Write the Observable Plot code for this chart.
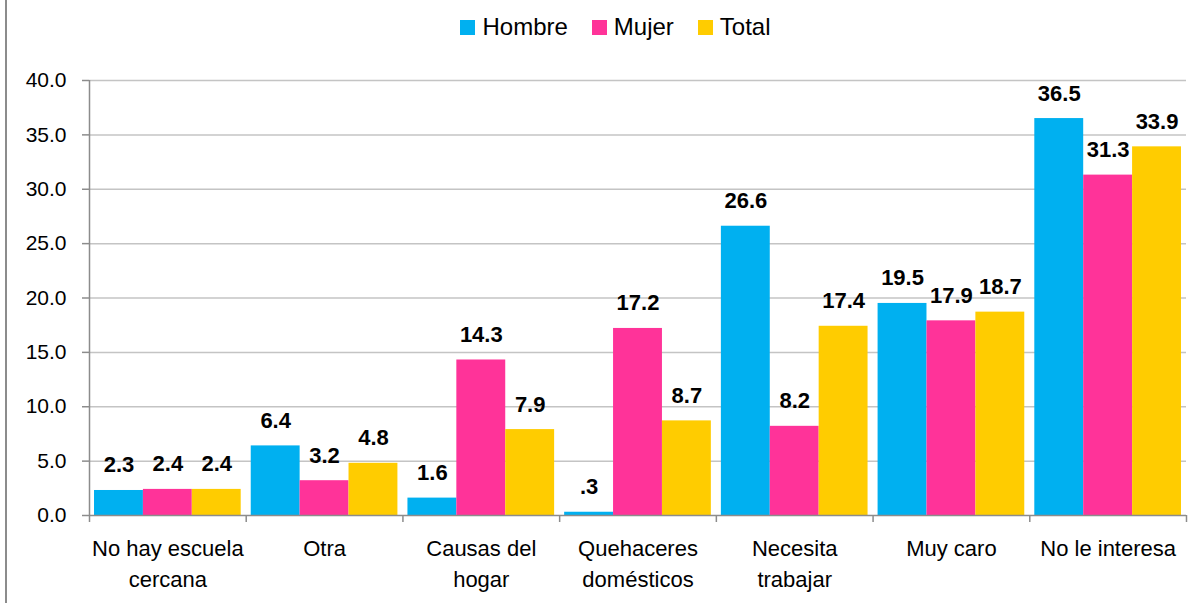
<!DOCTYPE html>
<html>
<head>
<meta charset="utf-8">
<script src="https://cdn.jsdelivr.net/npm/d3@7"></script>
<script src="https://cdn.jsdelivr.net/npm/@observablehq/plot@0.6"></script>
<style>
  html, body { margin: 0; padding: 0; background: #fff; }
  body { width: 1199px; height: 603px; position: relative; overflow: hidden;
         font-family: "Liberation Sans", Arial, sans-serif; }
  #frame { position: absolute; left: 5px; top: 0; width: 2px; height: 603px; background: #8c8c8c; }
  #legend { height: 54px; display: flex; justify-content: center; align-items: center;
            padding-left: 32px; box-sizing: border-box; font-size: 24px; color: #000; }
  .item { display: flex; align-items: center; margin: 0 12px; }
  .sw { width: 15px; height: 15px; margin-right: 7px; }
  #chart svg { display: block; }
</style>
</head>
<body>
<div id="frame"></div>
<div id="legend"></div>
<div id="chart"></div>
<script>
const categories = ["No hay escuela cercana", "Otra", "Causas del hogar", "Quehaceres domésticos", "Necesita trabajar", "Muy caro", "No le interesa"];
const categoryLabels = ["No hay escuela\ncercana", "Otra", "Causas del\nhogar", "Quehaceres\ndomésticos", "Necesita\ntrabajar", "Muy caro", "No le interesa"];
const series = ["Hombre", "Mujer", "Total"];
const colors = ["#00B0F0", "#FF3399", "#FFCC00"];
const hombre = [2.3, 6.4, 1.6, 0.3, 26.6, 19.5, 36.5];
const mujer  = [2.4, 3.2, 14.3, 17.2, 8.2, 17.9, 31.3];
const total  = [2.4, 4.8, 7.9, 8.7, 17.4, 18.7, 33.9];
const yTicks = [0, 5, 10, 15, 20, 25, 30, 35, 40];

const values = [hombre, mujer, total];
const rows = [];
categories.forEach((c, ci) => {
  series.forEach((s, si) => rows.push({category: c, ci, series: s, si, value: values[si][ci]}));
});

// legend
const legend = document.getElementById("legend");
series.forEach((s, i) => {
  const it = document.createElement("div");
  it.className = "item";
  it.innerHTML = `<span class="sw" style="background:${colors[i]}"></span><span>${s}</span>`;
  legend.appendChild(it);
});

const pad = 0.032;
const bw = (1 - 2 * pad) / 3;
const fmt = v => d3.format(".1f")(v).replace(/^0\./, ".");
const font = '"Liberation Sans", Arial, sans-serif';

const chart = Plot.plot({
  width: 1199,
  height: 549,
  marginLeft: 89,
  marginRight: 13,
  marginTop: 26,
  marginBottom: 88,
  style: {fontFamily: font, background: "#fff", color: "#000"},
  x: {domain: [0, categories.length], axis: null},
  y: {domain: [0, 40], axis: null},
  color: {domain: series, range: colors},
  marks: [
    Plot.ruleY(yTicks.slice(1), {stroke: "#c4c4c4", strokeWidth: 1.5}),
    Plot.rectY(rows, {
      x1: d => d.ci + pad + d.si * bw,
      x2: d => d.ci + pad + (d.si + 1) * bw,
      y: "value",
      fill: "series"
    }),
    Plot.ruleY([0], {stroke: "#8c8c8c", strokeWidth: 1.5}),
    Plot.ruleX([0], {y1: 0, y2: 40, stroke: "#8c8c8c", strokeWidth: 1.5}),
    Plot.axisY(yTicks, {
      tickSize: 7, tickPadding: 16, tickFormat: d3.format(".1f"),
      stroke: "#8c8c8c", fill: "#000", fontSize: 21, label: null, strokeWidth: 1.5
    }),
    Plot.axisX(d3.range(categories.length + 1), {
      tickSize: 7, tickFormat: () => "", stroke: "#8c8c8c", label: null, strokeWidth: 1.5
    }),
    Plot.text(categoryLabels, {
      x: (d, i) => i + 0.5,
      frameAnchor: "bottom",
      text: d => d,
      lineAnchor: "top",
      dy: 19,
      lineHeight: 1.4,
      fontSize: 22,
      fill: "#000"
    }),
    Plot.text(rows, {
      x: d => d.ci + pad + (d.si + 0.5) * bw,
      y: "value",
      text: d => fmt(d.value),
      lineAnchor: "bottom",
      dy: -18,
      fontSize: 22,
      fontWeight: "bold",
      fill: "#000"
    })
  ]
});
document.getElementById("chart").appendChild(chart);
</script>
</body>
</html>
